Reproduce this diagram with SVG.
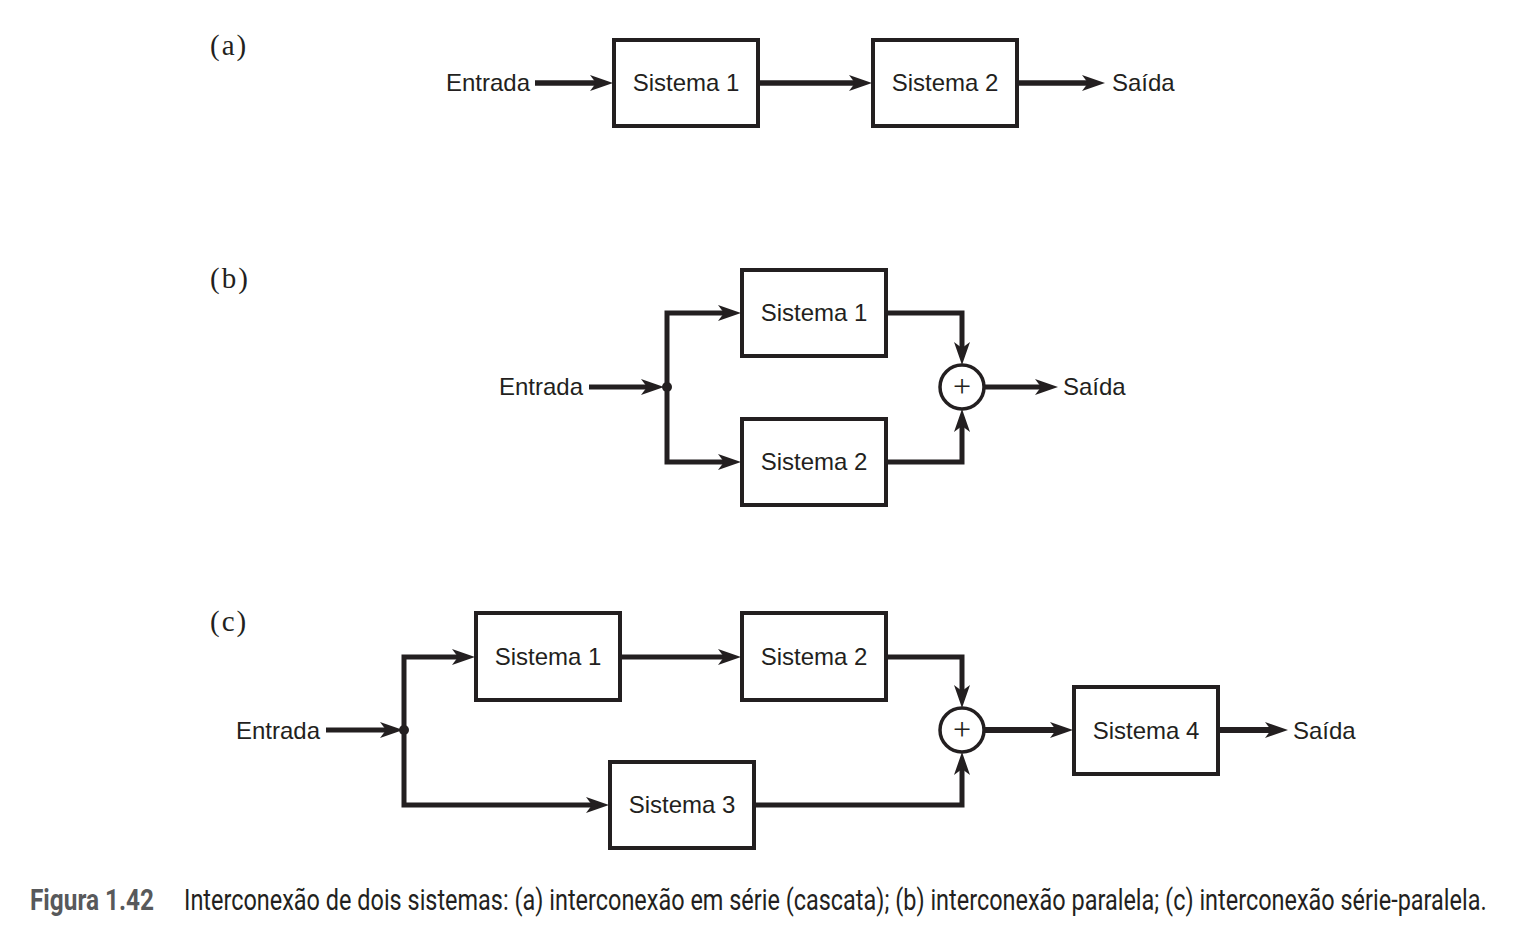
<svg xmlns="http://www.w3.org/2000/svg" width="1516" height="948" viewBox="0 0 1516 948">
<style>
  .box { fill: #ffffff; stroke: #231f20; stroke-width: 4; }
  .lbl { font-family: "Liberation Sans", Arial, sans-serif; font-size: 24px; fill: #231f20; }
  .btxt { font-family: "Liberation Sans", Arial, sans-serif; font-size: 24px; fill: #231f20; text-anchor: middle; }
  .tag { font-family: "Liberation Serif", "Times New Roman", serif; font-size: 29px; fill: #231f20; letter-spacing: 2px; }
  .wire { fill: none; stroke: #231f20; stroke-width: 5; stroke-linejoin: miter; }
  .arr { marker-end: url(#ah); }
  .sum { fill: #ffffff; stroke: #231f20; stroke-width: 3.5; }
  .plus { font-family: "Liberation Serif", "Times New Roman", serif; font-size: 32px; fill: #231f20; text-anchor: middle; }
  .cap { font-family: "Liberation Sans Narrow", "Roboto", "Liberation Sans", sans-serif; font-size: 30px; }
</style>
<defs>
  <marker id="ah" markerWidth="24" markerHeight="18" refX="6" refY="8" orient="auto" markerUnits="userSpaceOnUse">
    <path d="M0,0 L23,8 L0,16 L6,8 Z" fill="#231f20"/>
  </marker>
</defs>

<!-- tags -->
<text class="tag" x="210" y="55">(a)</text>
<text class="tag" x="210" y="288">(b)</text>
<text class="tag" x="210" y="631">(c)</text>

<!-- (a) -->
<g id="a-entrada"><text class="lbl" x="446" y="91">Entrada</text></g>
<g id="a-s1"><rect class="box" x="614" y="40" width="144" height="86"/><text class="btxt" x="686" y="91">Sistema 1</text></g>
<g id="a-s2"><rect class="box" x="873" y="40" width="144" height="86"/><text class="btxt" x="945" y="91">Sistema 2</text></g>
<g id="a-saida"><text class="lbl" x="1112" y="91">Saída</text></g>

<!-- (b) -->
<g id="b-entrada"><text class="lbl" x="499" y="395">Entrada</text></g>
<g id="b-s1"><rect class="box" x="742" y="270" width="144" height="86"/><text class="btxt" x="814" y="321">Sistema 1</text></g>
<g id="b-s2"><rect class="box" x="742" y="419" width="144" height="86"/><text class="btxt" x="814" y="470">Sistema 2</text></g>
<g id="b-sum"><circle class="sum" cx="962" cy="387" r="22"/><text class="plus" x="962" y="397">+</text></g>
<g id="b-saida"><text class="lbl" x="1063" y="395">Saída</text></g>

<!-- (c) -->
<g id="c-entrada"><text class="lbl" x="236" y="739">Entrada</text></g>
<g id="c-s1"><rect class="box" x="476" y="613" width="144" height="87"/><text class="btxt" x="548" y="665">Sistema 1</text></g>
<g id="c-s2"><rect class="box" x="742" y="613" width="144" height="87"/><text class="btxt" x="814" y="665">Sistema 2</text></g>
<g id="c-s3"><rect class="box" x="610" y="762" width="144" height="86"/><text class="btxt" x="682" y="813">Sistema 3</text></g>
<g id="c-s4"><rect class="box" x="1074" y="687" width="144" height="87"/><text class="btxt" x="1146" y="739">Sistema 4</text></g>
<g id="c-sum"><circle class="sum" cx="962" cy="730" r="22"/><text class="plus" x="962" y="740">+</text></g>
<g id="c-saida"><text class="lbl" x="1293" y="739">Saída</text></g>

<!-- connectors -->
<g id="connectors">
  <path class="wire arr" d="M535,83 H596" style="stroke-width:5.5"/>
  <path class="wire arr" d="M758,83 H855" style="stroke-width:5.5"/>
  <path class="wire arr" d="M1017,83 H1088" style="stroke-width:5.5"/>

  <path class="wire arr" d="M589,387 H647"/>
  <path class="wire arr" d="M667,387 V313 H724"/>
  <path class="wire arr" d="M667,387 V462 H724"/>
  <path class="wire arr" d="M886,313 H962 V348"/>
  <path class="wire arr" d="M886,462 H962 V426"/>
  <path class="wire arr" d="M984,387 H1041"/>
  <circle cx="667" cy="387" r="5" fill="#231f20"/>

  <path class="wire arr" d="M326,730 H386"/>
  <path class="wire arr" d="M404,730 V657 H458"/>
  <path class="wire arr" d="M404,730 V805 H592"/>
  <path class="wire arr" d="M620,657 H724"/>
  <path class="wire arr" d="M886,657 H962 V691"/>
  <path class="wire arr" d="M754,805 H962 V769"/>
  <path class="wire arr" d="M984,730 H1056" style="stroke-width:6"/>
  <path class="wire arr" d="M1218,730 H1271" style="stroke-width:6"/>
  <circle cx="404" cy="730" r="5" fill="#231f20"/>
</g>

<!-- caption -->
<g id="caption">
  <text class="cap" transform="translate(30,910) scale(0.8,1)" x="0" y="0" font-weight="bold" fill="#58595b" textLength="155" lengthAdjust="spacingAndGlyphs">Figura 1.42</text>
  <text class="cap" transform="translate(184,910) scale(0.78,1)" x="0" y="0" fill="#231f20" textLength="1670" lengthAdjust="spacingAndGlyphs">Interconexão de dois sistemas: (a) interconexão em série (cascata); (b) interconexão paralela; (c) interconexão série-paralela.</text>
</g>
</svg>
